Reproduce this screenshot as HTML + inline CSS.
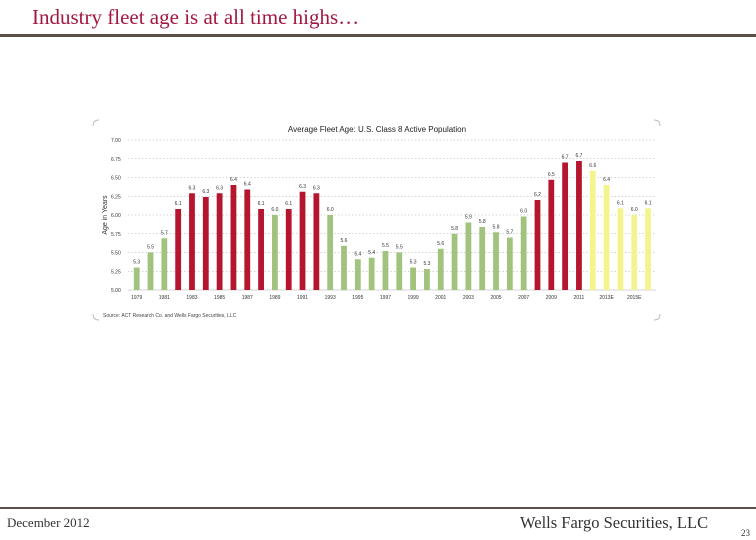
<!DOCTYPE html>
<html><head><meta charset="utf-8"><style>
body{margin:0;width:756px;height:540px;background:#fff;overflow:hidden;position:relative;font-family:"Liberation Serif",serif}
.abs{position:absolute;margin:0}
</style></head><body>
<h1 class="abs" style="left:32px;top:5px;font-size:21px;font-weight:normal;color:#a3173f;font-family:'Liberation Serif',serif">Industry fleet age is at all time highs…</h1>
<div class="abs" style="left:0;top:34px;width:756px;height:3px;background:#5a5048"></div>
<div class="abs" style="left:0;top:507px;width:756px;height:2px;background:#5a5048"></div>
<div class="abs" style="left:7px;top:515px;font-size:13px;color:#333">December 2012</div>
<div class="abs" style="left:520px;top:513px;font-size:16.5px;color:#333">Wells Fargo Securities, LLC</div>
<div class="abs" style="left:741px;top:528px;font-size:9px;color:#333">23</div>
<svg class="abs" style="left:0;top:0" width="756" height="540" id="chart" font-family="Liberation Sans, sans-serif"></svg>
<script>
const years=[1979,1980,1981,1982,1983,1984,1985,1986,1987,1988,1989,1990,1991,1992,1993,1994,1995,1996,1997,1998,1999,2000,2001,2002,2003,2004,2005,2006,2007,2008,2009,2010,2011,2012,2013,2014,2015,2016];
const values=[5.30,5.50,5.69,6.08,6.29,6.24,6.29,6.40,6.34,6.08,6.00,6.08,6.31,6.29,6.00,5.59,5.41,5.43,5.52,5.50,5.30,5.28,5.55,5.75,5.90,5.84,5.77,5.70,5.98,6.20,6.47,6.70,6.72,6.59,6.40,6.09,6.00,6.09];
const valueLabels=["5.3","5.5","5.7","6.1","6.3","6.3","6.3","6.4","6.4","6.1","6.0","6.1","6.3","6.3","6.0","5.6","5.4","5.4","5.5","5.5","5.3","5.3","5.6","5.8","5.9","5.8","5.8","5.7","6.0","6.2","6.5","6.7","6.7","6.6","6.4","6.1","6.0","6.1"];
const groups=["g","g","g","r","r","r","r","r","r","r","g","r","r","r","g","g","g","g","g","g","g","g","g","g","g","g","g","g","g","r","r","r","r","y","y","y","y","y"];
const yTicks=[5.00,5.25,5.50,5.75,6.00,6.25,6.50,6.75,7.00];
const xTickLabels={1979:"1979",1981:"1981",1983:"1983",1985:"1985",1987:"1987",1989:"1989",1991:"1991",1993:"1993",1995:"1995",1997:"1997",1999:"1999",2001:"2001",2003:"2003",2005:"2005",2007:"2007",2009:"2009",2011:"2011",2013:"2013E",2015:"2015E"};
const colors={g:"#a2c37d",r:"#b5152f",y:"#f3f48e"};
const svg=document.getElementById('chart');const NS="http://www.w3.org/2000/svg";
function el(t,a,p){const e=document.createElementNS(NS,t);for(const k in a)e.setAttribute(k,a[k]);(p||svg).appendChild(e);return e;}
const y=v=>290-(v-5)*75;
const x=i=>136.7+i*13.82;
[[93,120,1,1],[660,120,-1,1],[93,320,1,-1],[660,320,-1,-1]].forEach(c=>{const p=el('path',{d:`M${c[0]} ${c[1]+6*c[3]} Q${c[0]} ${c[1]} ${c[0]+6*c[2]} ${c[1]}`,fill:'none',stroke:'#bbb','stroke-width':1});
});
const t=el('text',{x:377,y:132,'font-size':8,'text-anchor':'middle',fill:'#222'});t.textContent="Average Fleet Age: U.S. Class 8 Active Population";

yTicks.forEach(v=>{
 const g=el('line',{x1:128,x2:656,y1:y(v),y2:y(v),stroke:'#aaa','stroke-width':0.6,'stroke-dasharray':v==5?'':'1.5,2'});
 
 const l=el('text',{x:111,y:y(v)+2,'font-size':5,fill:'#333'});l.textContent=v.toFixed(2);
 
});
const yt=el('text',{x:0,y:0,'font-size':7,fill:'#333','text-anchor':'middle',transform:'translate(107,215) rotate(-90)'});yt.textContent="Age in Years";

values.forEach((v,i)=>{
 const b=el('rect',{x:x(i)-2.9,y:y(v),width:5.8,height:290-y(v),fill:colors[groups[i]]});
 
 const l=el('text',{x:x(i),y:y(v)-4,'font-size':5,'text-anchor':'middle',fill:'#333'});l.textContent=valueLabels[i];
 
 if(xTickLabels[years[i]]){const xl=el('text',{x:x(i),y:299,'font-size':5,'text-anchor':'middle',fill:'#333'});xl.textContent=xTickLabels[years[i]];
 }
});
const s=el('text',{x:103,y:317,'font-size':5,fill:'#444'});s.textContent="Source: ACT Research Co. and Wells Fargo Securities, LLC";

</script>
</body></html>
